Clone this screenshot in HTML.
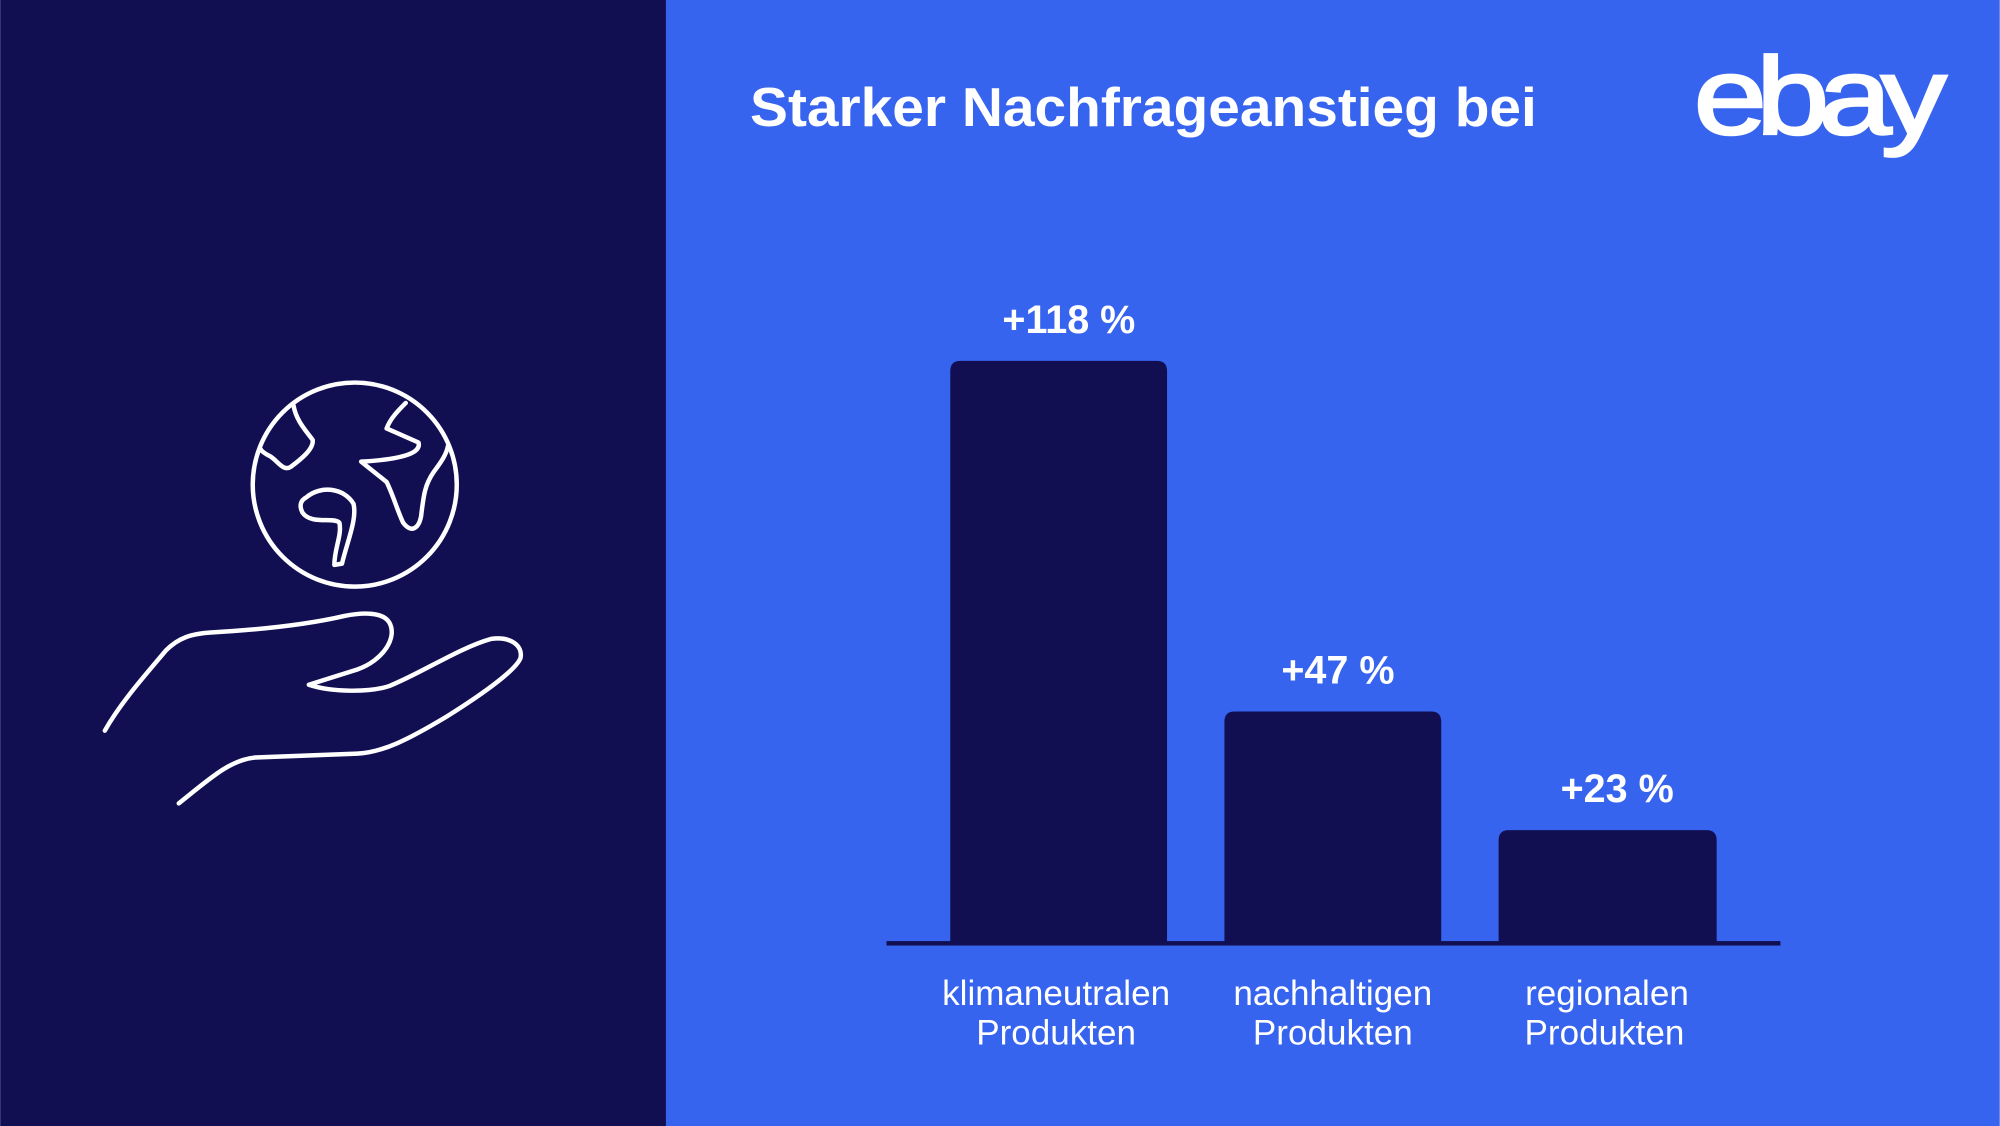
<!DOCTYPE html>
<html><head><meta charset="utf-8"><style>
html,body{margin:0;padding:0;width:2000px;height:1126px;overflow:hidden}
svg{display:block}
text{font-family:"Liberation Sans",sans-serif;fill:#fff}
</style></head><body>
<svg width="2000" height="1126" viewBox="0 0 1568 883" xmlns="http://www.w3.org/2000/svg">
<rect width="1568" height="883" fill="#3764ef"/>
<rect width="522" height="883" fill="#110f52"/>
<g fill="none" stroke="#fff" stroke-width="3.5" stroke-linecap="round" stroke-linejoin="round">
<circle cx="278" cy="380" r="80"/>
<path d="M230 318 C232 330 240 338 245 345 C246 352 236 360 228 366 C222 370 218 362 212 358 C208 356 205 354 204 352"/>
<path d="M318 316 C312 322 306 328 303 336 L328 347 C330 354 320 360 283 362 L303 378 C308 388 312 402 316 410 C322 418 328 415 330 405 C332 388 333 380 340 370 C346 362 350 356 351 350"/>
<path d="M240 390 C252 380 270 383 277 395 C280 407 272 425 268 442 L262 443 C262 430 268 420 266 410 C262 405 244 412 237 402 C234 396 236 392 240 390"/>
<path d="M82 573 C95 550 115 528 130 510 C140 500 150 497 165 496 C200 494 240 490 270 483 C285 480 300 480 305 488 C312 500 300 518 280 525 L242 537 C260 543 290 543 305 538 C330 528 360 508 385 501 C400 499 410 506 408 516 C405 524 385 540 350 562 C320 580 300 590 280 591 L200 594 C180 596 165 610 140 630"/>
</g>
<text x="588" y="99" font-size="43" font-weight="bold" textLength="617" lengthAdjust="spacingAndGlyphs">Starker Nachfrageanstieg bei</text>
<text x="1328" y="105" font-size="86" letter-spacing="-7" stroke="#fff" stroke-width="2" textLength="190" lengthAdjust="spacingAndGlyphs">ebay</text>
<path d="M745 740 V291 Q745 283 753 283 H907 Q915 283 915 291 V740 Z" fill="#110f52"/>
<path d="M960 740 V566 Q960 558 968 558 H1122 Q1130 558 1130 566 V740 Z" fill="#110f52"/>
<path d="M1175 740 V659 Q1175 651 1183 651 H1338 Q1346 651 1346 659 V740 Z" fill="#110f52"/>
<rect x="695" y="738" width="701" height="3.5" fill="#110f52"/>
<g font-size="31" font-weight="bold" text-anchor="middle">
<text x="838" y="261">+118 %</text>
<text x="1049" y="536">+47 %</text>
<text x="1268" y="629">+23 %</text>
</g>
<g font-size="27.5" text-anchor="middle">
<text x="828" y="788">klimaneutralen</text>
<text x="828" y="819">Produkten</text>
<text x="1045" y="788">nachhaltigen</text>
<text x="1045" y="819">Produkten</text>
<text x="1260" y="788">regionalen</text>
<text x="1258" y="819">Produkten</text>
</g>
</svg>
</body></html>
